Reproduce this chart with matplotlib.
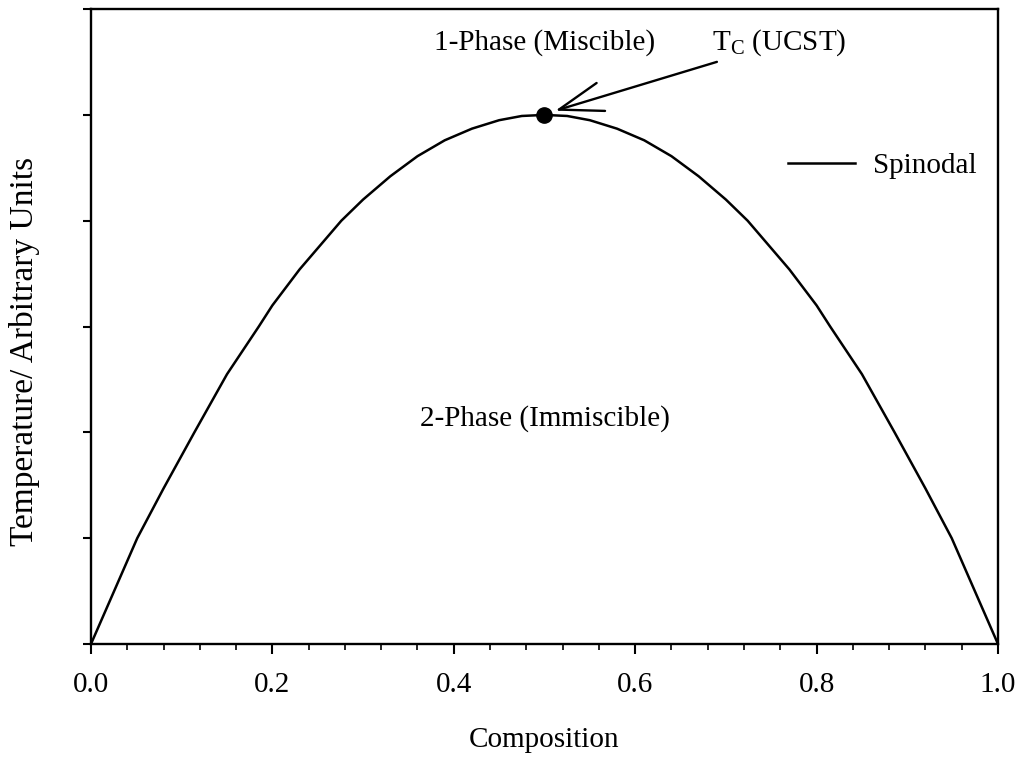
import matplotlib
matplotlib.use("Agg")
import matplotlib.pyplot as plt
from matplotlib.ticker import MultipleLocator

# spinodal curve (composition, temperature in arbitrary units)
comp = [0.0, 0.025, 0.051, 0.080, 0.114, 0.150, 0.185, 0.200, 0.230, 0.276,
        0.300, 0.330, 0.360, 0.390, 0.420, 0.450, 0.475, 0.500, 0.525, 0.550,
        0.580, 0.610, 0.640, 0.670, 0.700, 0.724, 0.770, 0.800, 0.815, 0.850,
        0.886, 0.920, 0.949, 0.975, 1.0]
temp = [0.0, 0.49, 1.00, 1.47, 2.00, 2.55, 3.00, 3.20, 3.54, 4.00,
        4.20, 4.42, 4.61, 4.76, 4.87, 4.95, 4.99, 5.00, 4.99, 4.95,
        4.87, 4.76, 4.61, 4.42, 4.20, 4.00, 3.54, 3.20, 3.00, 2.55,
        2.00, 1.47, 1.00, 0.49, 0.0]
crit_x = [0.5]
crit_t = [5.0]

plt.rcParams['font.family'] = ['Liberation Serif', 'DejaVu Serif']

fig = plt.figure(figsize=(10.28, 7.58), dpi=100)
ax = fig.add_axes([0.0885, 0.1504, 0.8823, 0.8376])

ax.plot(comp, temp, '-', color='black', lw=1.8, label='Spinodal')
ax.plot(crit_x, crit_t, 'o', color='black', ms=11)

ax.set_xlim(0, 1.0)
ax.set_ylim(0, 6)
ax.xaxis.set_major_locator(MultipleLocator(0.2))
ax.xaxis.set_minor_locator(MultipleLocator(0.04))
ax.yaxis.set_major_locator(MultipleLocator(1))
ax.set_xticklabels([f'{v:.1f}' for v in ax.get_xticks()])
ax.set_yticklabels([])
ax.tick_params(axis='x', which='major', direction='out', length=7, width=1.5,
               labelsize=21, pad=13)
ax.tick_params(axis='x', which='minor', direction='out', length=4, width=1.2)
ax.tick_params(axis='y', which='major', direction='out', length=6, width=1.5)
for sp in ax.spines.values():
    sp.set_linewidth(1.7)

ax.set_xlabel('Composition', fontsize=21, va='center')
ax.xaxis.set_label_coords(0.5, -0.151)
ax.set_ylabel('Temperature/ Arbitrary Units', fontsize=24, va='center')
ax.yaxis.set_label_coords(-0.073, 0.461)

ax.text(0.5, 5.68, '1-Phase (Miscible)', fontsize=21, ha='center', va='center')
ax.text(0.5, 2.13, '2-Phase (Immiscible)', fontsize=21, ha='center', va='center')
ax.annotate(r'T$_\mathregular{C}$ (UCST)', xy=(0.512, 5.04), xytext=(0.685, 5.68),
            fontsize=21, ha='left', va='center',
            arrowprops=dict(arrowstyle='->, head_length=1.5, head_width=0.5',
                            color='black', lw=1.7, shrinkA=2, shrinkB=0))

ax.legend(loc='upper left', bbox_to_anchor=(0.74, 0.815), frameon=False,
          fontsize=21, handlelength=2.3, handletextpad=0.6)

fig.savefig('out.png', dpi=100)
